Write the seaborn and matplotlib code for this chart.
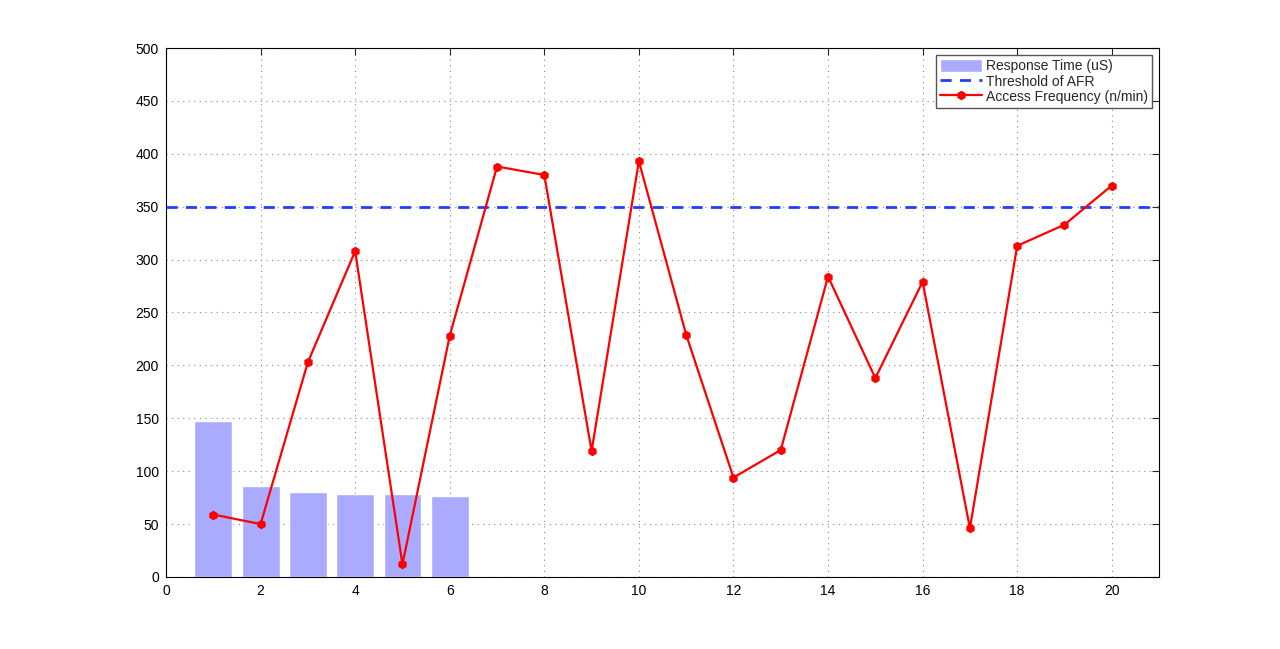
import numpy as np
import pandas as pd
import matplotlib
matplotlib.use('Agg')
import matplotlib.pyplot as plt
import seaborn as sns

# response time bars (first six requests)
bar_x = [1, 2, 3, 4, 5, 6]
resp_time = [147, 86, 80, 78, 78, 77]

# access frequency line
freq_x = list(range(1, 21))
access_freq = [59, 50, 203, 308, 12, 228, 388, 380, 119, 393,
               229, 94, 120, 284, 188, 279, 46, 313, 333, 370]

afr_threshold = 350

sns.set_style('white')
plt.rcParams['font.family'] = ['Liberation Sans', 'DejaVu Sans']

fig = plt.figure(figsize=(12.8, 6.49), dpi=100)
ax = fig.add_axes([0.1297, 0.111, 0.7758, 0.815])

ax.bar(bar_x, resp_time, width=0.8, color='#aaaaff', label='Response Time (uS)', zorder=2)
ax.axhline(afr_threshold, color='#1f3fff', ls='--', lw=2, dashes=(4, 3),
           label='Threshold of AFR', zorder=3)
sns.lineplot(x=freq_x, y=access_freq, ax=ax, color='red', lw=1.6, marker='h',
             markersize=6, markeredgecolor='red', label='Access Frequency (n/min)', zorder=4)

ax.set_xlim(0, 21)
ax.set_ylim(0, 500)
ax.set_xticks(range(0, 21, 2))
ax.set_yticks(range(0, 501, 50))
ax.grid(True, ls=(0, (1, 4)), color='#888888', lw=0.8)
ax.set_axisbelow(True)
ax.tick_params(direction='in', top=True, right=True, labelsize=10, length=5,
               labelcolor='black', pad=5)
for s in ax.spines.values():
    s.set_color('black')
    s.set_linewidth(0.8)

h, l = ax.get_legend_handles_labels()
order = [l.index('Response Time (uS)'), l.index('Threshold of AFR'), l.index('Access Frequency (n/min)')]
leg = ax.legend([h[i] for i in order], [l[i] for i in order],
                loc='upper right', fontsize=10, fancybox=False, framealpha=1,
                edgecolor='#555555', borderaxespad=0.5, handlelength=3.0,
                handleheight=1.0, labelspacing=0.1, borderpad=0.3, handletextpad=0.3)

fig.savefig('out.png', dpi=100)
